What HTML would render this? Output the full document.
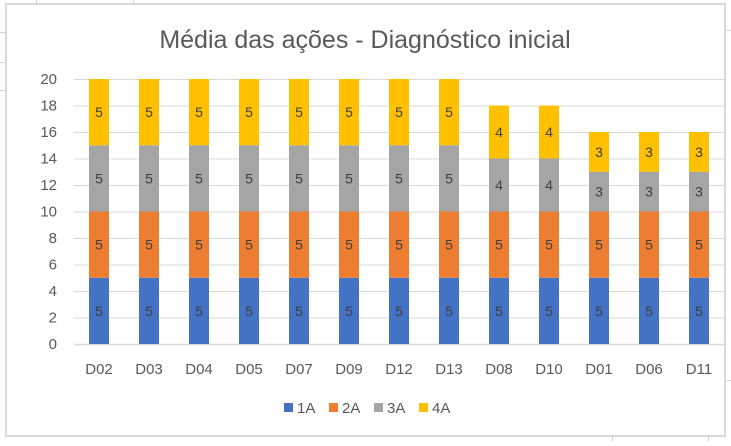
<!DOCTYPE html>
<html><head><meta charset="utf-8"><style>
body{margin:0;width:731px;height:441px;overflow:hidden;background:#fff;font-family:"Liberation Sans",Arial,sans-serif}
</style></head><body>
<svg id="c" width="731" height="441" xmlns="http://www.w3.org/2000/svg">
<g stroke="#d4d4d4" stroke-width="1">
<line x1="36.5" y1="0" x2="36.5" y2="4"/><line x1="133.5" y1="0" x2="133.5" y2="4"/>
<line x1="0" y1="32.5" x2="6" y2="32.5"/><line x1="0" y1="62.5" x2="6" y2="62.5"/><line x1="0" y1="90.5" x2="6" y2="90.5"/>
<line x1="612.5" y1="437" x2="612.5" y2="441"/><line x1="708.5" y1="437" x2="708.5" y2="441"/>
<line x1="726" y1="30.5" x2="731" y2="30.5"/><line x1="726" y1="380.5" x2="731" y2="380.5"/>
</g>
<rect x="6" y="4" width="719" height="432" fill="#fff" stroke="#d9d9d9" stroke-width="2"/>
<text x="365" y="48" text-anchor="middle" font-size="25" fill="#595959">Média das ações - Diagnóstico inicial</text>
<g id="grid"></g><g id="bars"></g><g id="axes"></g>
<g id="legend"></g>
</svg>
<script>
const categories=["D02","D03","D04","D05","D07","D09","D12","D13","D08","D10","D01","D06","D11"];
const s1A=[5,5,5,5,5,5,5,5,5,5,5,5,5];
const s2A=[5,5,5,5,5,5,5,5,5,5,5,5,5];
const s3A=[5,5,5,5,5,5,5,5,4,4,3,3,3];
const s4A=[5,5,5,5,5,5,5,5,4,4,3,3,3];
const seriesNames=["1A","2A","3A","4A"];
const yTicks=[0,2,4,6,8,10,12,14,16,18,20];
const colors=["#4472C4","#ED7D31","#A5A5A5","#FFC000"];
const series=[s1A,s2A,s3A,s4A];
const NS="http://www.w3.org/2000/svg";
const X0=74,X1=724,Y0=344,Y1=79,YMAX=20;
const bw=(X1-X0)/categories.length;
const y=v=>Y0-(v/YMAX)*(Y0-Y1);
const xc=i=>X0+bw*(i+0.5);
function mk(tag,attrs,parent){const e=document.createElementNS(NS,tag);for(const k in attrs)e.setAttribute(k,attrs[k]);document.getElementById(parent).appendChild(e);return e;}
yTicks.forEach(t=>{
 const l=mk("line",{x1:X0,x2:X1,y1:y(t)+0.5,y2:y(t)+0.5,stroke:"#d9d9d9","stroke-width":t===0?1.5:1},"grid");
 
 
 const tx=mk("text",{x:57,y:y(t)+5,"text-anchor":"end","font-size":15,fill:"#595959"},"axes");
 tx.textContent=t;
 
 
});
categories.forEach((c,i)=>{
 let acc=0;
 series.forEach((s,k)=>{
  const v=s[i];
  const r=mk("rect",{x:xc(i)-10,width:20,y:y(acc+v),height:y(acc)-y(acc+v),fill:colors[k]},"bars");
  
  
  const lb=mk("text",{x:xc(i),y:(y(acc)+y(acc+v))/2+5,"text-anchor":"middle","font-size":14,fill:"#404040"},"bars");
  lb.textContent=v;
  
  
  acc+=v;
 });
 const tx=mk("text",{x:xc(i),y:374,"text-anchor":"middle","font-size":15,fill:"#595959"},"axes");
 tx.textContent=c;
 
 
});
const lx=[284,329,374,419];
seriesNames.forEach((n,k)=>{
 const r=mk("rect",{x:lx[k],y:403,width:9,height:9,fill:colors[k]},"legend");
 
 
 const t=mk("text",{x:lx[k]+13,y:413,"font-size":15,fill:"#595959"},"legend");
 t.textContent=n;
 
 
});
</script>
</body></html>
